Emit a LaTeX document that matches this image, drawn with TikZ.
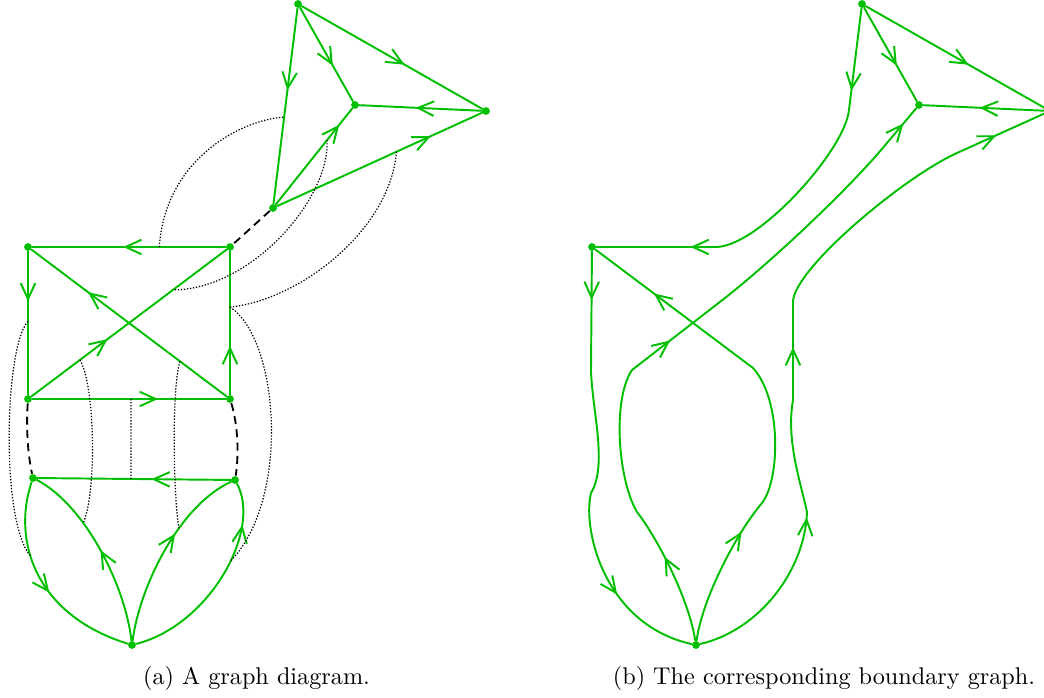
\documentclass[tikz,border=0pt]{standalone}
\usetikzlibrary{arrows.meta,decorations.markings,calc}
\definecolor{gr}{RGB}{0,191,0}
\tikzset{
  gline/.style={draw=gr, line width=0.8pt, line cap=round},
  gdot/.style={circle, fill=gr, inner sep=0pt, minimum size=3.2pt},
  ar/.style={postaction={decorate}, decoration={markings, mark=at position #1 with {\arrow[gr, line width=0.8pt]{Straight Barb[length=6.6pt,width=6pt]}}}},
  dotl/.style={draw=black, line width=0.5pt, dash pattern=on 0.55pt off 0.7pt},
  dashl/.style={draw=black, line width=0.75pt, dash pattern=on 3.3pt off 2.2pt},
}
\begin{document}
\begin{tikzpicture}[x=0.413pt,y=-0.413pt]
\useasboundingbox (0,0) rectangle (1044,698);
\clip (0,0) rectangle (1044,698);

% ---------- (a) ----------
\node[gdot] (T) at (298,4) {};
\node[gdot] (C) at (355,105) {};
\node[gdot] (R) at (486,111) {};
\node[gdot] (B) at (273,208) {};
\node[gdot] (TL) at (28,247) {};
\node[gdot] (TR) at (230,247) {};
\node[gdot] (BL) at (28,399) {};
\node[gdot] (BR) at (230,399) {};
\node[gdot] (ML) at (33,478) {};
\node[gdot] (MR) at (235,480) {};
\node[gdot] (P) at (132,645) {};

\draw[gline,ar=0.42] (T) -- (B);
\draw[gline,ar=0.62] (T) -- (C);
\draw[gline,ar=0.57] (T) -- (R);
\draw[gline,ar=0.54] (R) -- (C);
\draw[gline,ar=0.83] (B) -- (C);
\draw[gline,ar=0.75] (B) -- (R);
\draw[gline,ar=0.53] (TR) -- (TL);
\draw[gline,ar=0.35] (TL) -- (BL);
\draw[gline,ar=0.71] (BR) -- (TL);
\draw[gline,ar=0.39] (BL) -- (TR);
\draw[gline,ar=0.65] (BL) -- (BR);
\draw[gline,ar=0.34] (BR) -- (TR);
\draw[gline,ar=0.41] (MR) -- (ML);
\draw[gline,ar=0.55] (ML) .. controls (12,540) and (35,615) .. (P) coordinate[pos=0.4] (ol);
\draw[gline,ar=0.5] (P) .. controls (125,585) and (85,505) .. (ML) coordinate[pos=0.65] (il);
\draw[gline,ar=0.6] (P) .. controls (140,585) and (180,505) .. (MR) coordinate[pos=0.62] (ir);
\draw[gline,ar=0.8] (P) .. controls (210,625) and (262,530) .. (MR) coordinate[pos=0.57] (or);

\draw[dashl] (B) -- (TR);
\draw[dashl] (BL) .. controls (26,430) and (28,455) .. (ML);
\draw[dashl] (BR) .. controls (238,425) and (239,455) .. (MR);

\coordinate (d1s) at ($(TR)!0.35!(TL)$);
\coordinate (d1e) at ($(T)!0.554!(B)$);
\draw[dotl] (d1s) .. controls (165,160) and (240,120) .. (d1e);
\coordinate (d2s) at ($(B)!0.66!(C)$);
\coordinate (d2e) at ($(BL)!0.718!(TR)$);
\draw[dotl] (d2s) .. controls (330,200) and (250,290) .. (d2e);
\coordinate (d3s) at ($(B)!0.58!(R)$);
\coordinate (d3e) at ($(BR)!0.605!(TR)$);
\draw[dotl] (d3s) .. controls (390,230) and (300,300) .. (d3e);
\draw[dotl] (d3e) .. controls (280,340) and (290,500) .. (or);
\coordinate (d5s) at ($(TL)!0.49!(BL)$);
\draw[dotl] (d5s) .. controls (5,345) and (0,520) .. (ol);
\coordinate (d6s) at ($(BL)!0.257!(TR)$);
\draw[dotl] (d6s) .. controls (95,385) and (97,490) .. (il);
\coordinate (d7s) at ($(BL)!0.51!(BR)$);
\coordinate (d7e) at ($(MR)!0.515!(ML)$);
\draw[dotl] (d7s) -- (d7e);
\coordinate (d8s) at ($(BR)!0.2475!(TL)$);
\draw[dotl] (d8s) .. controls (172,385) and (173,490) .. (ir);

% ---------- (b) ----------
\node[gdot] (T2) at (862,4) {};
\node[gdot] (C2) at (919,105) {};
\node[gdot] (R2) at (1050,111) {};
\node[gdot] (TL2) at (592,247) {};
\node[gdot] (P2) at (696,645) {};

\draw[gline,ar=0.62] (T2) -- (C2);
\draw[gline,ar=0.57] (T2) -- (R2);
\draw[gline,ar=0.54] (R2) -- (C2);

\coordinate (b1a) at (849,110);
\coordinate (b1b) at (717,247);
\draw[gline] (T2) -- (b1a) .. controls (845,150) and (760,245) .. (b1b) -- (TL2);
\path[ar=0.81] (T2) -- (b1a);
\path[ar=0.22] (b1b) -- (TL2);

\coordinate (b2a) at (637,512);
\coordinate (b2b) at (632,370);
\coordinate (b2c) at (725,298);
\coordinate (b2d) at (887,143);
\draw[gline] (P2) .. controls (688,595) and (655,535) .. (b2a) .. controls (618,480) and (612,400) .. (b2b) -- (b2c) .. controls (772,261) and (849,189) .. (b2d) -- (C2);
\path[ar=0.63] (P2) .. controls (688,595) and (655,535) .. (b2a);
\path[ar=0.41] (b2b) -- (b2c);
\path[ar=0.56] (b2d) -- (C2);

\coordinate (b3a) at (807,512);
\coordinate (b3b) at (793,400);
\coordinate (b3c) at (793,302);
\coordinate (b3d) at (957,153);
\draw[gline] (P2) .. controls (760,630) and (805,570) .. (b3a) .. controls (800,480) and (786,440) .. (b3b) -- (b3c) .. controls (793,270) and (902,178) .. (b3d) -- (R2);
\path[ar=0.97] (P2) .. controls (760,630) and (805,570) .. (b3a);
\path[ar=0.54] (b3b) -- (b3c);
\path[ar=0.44] (b3d) -- (R2);

\coordinate (b4a) at (591,370);
\coordinate (b4b) at (591,493);
\draw[gline] (TL2) -- (b4a) .. controls (592,410) and (608,465) .. (b4b) .. controls (582,530) and (605,625) .. (P2);
\path[ar=0.41] (TL2) -- (b4a);
\path[ar=0.54] (b4b) .. controls (582,530) and (605,625) .. (P2);

\coordinate (b5a) at (762,503);
\coordinate (b5b) at (753,368);
\draw[gline] (P2) .. controls (702,600) and (735,535) .. (b5a) .. controls (780,480) and (782,400) .. (b5b) -- (TL2);
\path[ar=0.77] (P2) .. controls (702,600) and (735,535) .. (b5a);
\path[ar=0.63] (b5b) -- (TL2);

% ---------- captions ----------
\node[anchor=base, inner sep=0pt] (capa) at (256.5,685) {(a) A graph diagram.};
\node[anchor=base, inner sep=0pt] (capb) at (824,685) {(b) The corresponding boundary graph.};
\end{tikzpicture}
\end{document}
